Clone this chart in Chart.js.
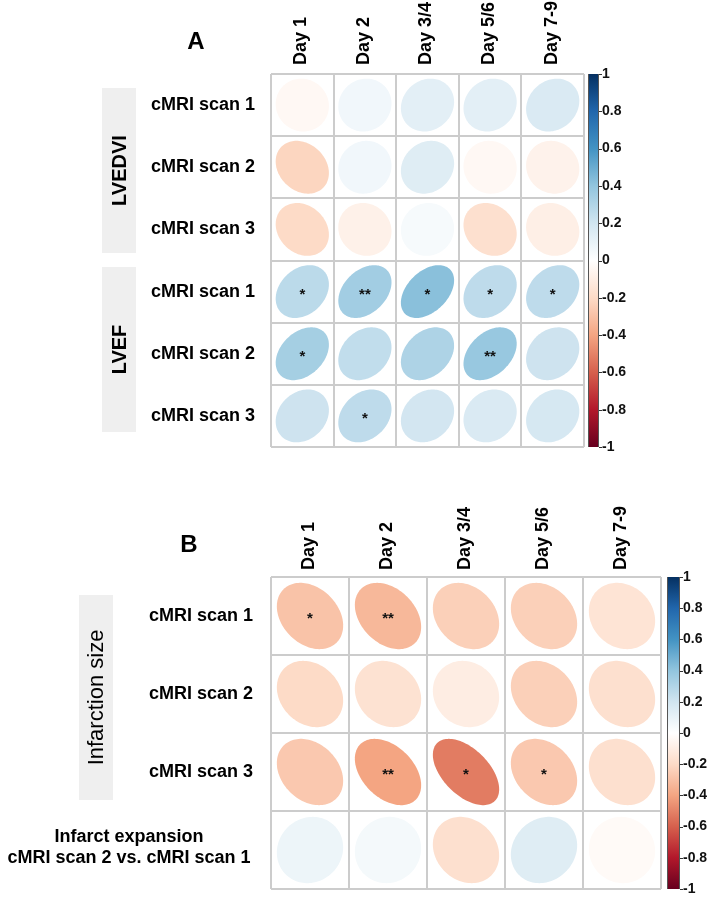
<!DOCTYPE html>
<html>
<head>
<meta charset="utf-8">
<title>Correlation ellipses</title>
<script src="https://cdn.jsdelivr.net/npm/chart.js@4.4.1/dist/chart.umd.min.js"></script>
<style>
    html, body { margin: 0; padding: 0; background: #fff; }
    #wrap { position: relative; width: 709px; height: 898px; }
    .panel { position: absolute; left: 0; }
    #panel-a { top: 0; }
    #panel-b { top: 460px; }
</style>
</head>
<body>
<div id="wrap">
    <div class="panel" id="panel-a"><canvas id="chart-a" width="709" height="460"></canvas></div>
    <div class="panel" id="panel-b"><canvas id="chart-b" width="709" height="438"></canvas></div>
</div>
<script>
// Axis labels
const days = ['Day 1', 'Day 2', 'Day 3/4', 'Day 5/6', 'Day 7-9'];
const rowsA = ['cMRI scan 1', 'cMRI scan 2', 'cMRI scan 3', 'cMRI scan 1', 'cMRI scan 2', 'cMRI scan 3'];
const rowsB = ['cMRI scan 1', 'cMRI scan 2', 'cMRI scan 3', ['Infarct expansion', 'cMRI scan 2 vs. cMRI scan 1']];
const colorbarTicks = [-1, -0.8, -0.6, -0.4, -0.2, 0, 0.2, 0.4, 0.6, 0.8, 1];

// Panel A correlations (rows x days)
const corrLVEDVI = [
    [-0.04, 0.06, 0.12, 0.12, 0.16],
    [-0.22, 0.06, 0.14, -0.04, -0.07],
    [-0.20, -0.08, 0.04, -0.17, -0.09]
];
const corrLVEF = [
    [0.27, 0.35, 0.42, 0.26, 0.26],
    [0.34, 0.25, 0.31, 0.38, 0.21],
    [0.21, 0.26, 0.19, 0.16, 0.18]
];
const sigLVEDVI = [
    ['', '', '', '', ''],
    ['', '', '', '', ''],
    ['', '', '', '', '']
];
const sigLVEF = [
    ['*', '**', '*', '*', '*'],
    ['*', '', '', '**', ''],
    ['', '*', '', '', '']
];

// Panel B correlations
const corrInfarct = [
    [-0.29, -0.33, -0.24, -0.24, -0.15],
    [-0.20, -0.16, -0.10, -0.24, -0.17],
    [-0.27, -0.40, -0.52, -0.27, -0.17]
];
const corrExpansion = [0.08, 0.05, -0.17, 0.14, -0.03];
const sigInfarct = [
    ['*', '**', '', '', ''],
    ['', '', '', '', ''],
    ['', '**', '*', '*', '']
];
const sigExpansion = ['', '', '', '', ''];

// RdBu palette used by corrplot
const palette = ['#67001F', '#B2182B', '#D6604D', '#F4A582', '#FDDBC7', '#FFFFFF',
                 '#D1E5F0', '#92C5DE', '#4393C3', '#2166AC', '#053061'];

const FONT = 'Arial, "Liberation Sans", sans-serif';

function hexToRgb(h) {
    return [parseInt(h.slice(1, 3), 16), parseInt(h.slice(3, 5), 16), parseInt(h.slice(5, 7), 16)];
}

function corrColor(v) {
    const pos = (v + 1) / 2 * (palette.length - 1);
    const i = Math.min(Math.floor(pos), palette.length - 2);
    const f = pos - i;
    const a = hexToRgb(palette[i]), b = hexToRgb(palette[i + 1]);
    const c = a.map((x, k) => Math.round(x + (b[k] - x) * f));
    return 'rgb(' + c.join(',') + ')';
}

// Build scatter points from the row arrays
function toPoints(matrix, sig) {
    const pts = [];
    matrix.forEach((row, r) => {
        row.forEach((v, c) => pts.push({ x: c, y: r, v: v, sig: sig[r][c] }));
    });
    return pts;
}

function halfTicks(n) {
    const t = [];
    for (let v = -0.5; v <= n - 0.5 + 1e-9; v += 0.5) t.push({ value: v });
    return t;
}

// tick padding of vertical axes would otherwise shrink the chart area
function noEdgePadding(s) {
    s.paddingTop = 0;
    s.paddingBottom = 0;
}

// Draws ellipses (corrplot style) at each data point
const ellipsePlugin = {
    id: 'corrEllipses',
    afterDatasetsDraw(chart) {
        const ctx = chart.ctx;
        const xs = chart.scales.x, ys = chart.scales.y;
        const cw = Math.abs(xs.getPixelForValue(1) - xs.getPixelForValue(0));
        const ch = Math.abs(ys.getPixelForValue(1) - ys.getPixelForValue(0));
        const meta = chart.getDatasetMeta(0);
        const data = chart.data.datasets[0].data;
        ctx.save();
        meta.data.forEach((pt, i) => {
            const d = data[i];
            const a = Math.acos(d.v) / 2;
            ctx.beginPath();
            for (let k = 0; k < 120; k++) {
                const t = k / 119 * 2 * Math.PI;
                const ex = 0.85 * Math.cos(t + a) / 2 * cw;
                const ey = 0.85 * Math.cos(t - a) / 2 * ch;
                if (k === 0) ctx.moveTo(pt.x + ex, pt.y - ey);
                else ctx.lineTo(pt.x + ex, pt.y - ey);
            }
            ctx.closePath();
            ctx.fillStyle = corrColor(d.v);
            ctx.fill();
            if (d.sig) {
                ctx.font = 'bold 15px ' + FONT;
                ctx.fillStyle = '#111';
                ctx.textAlign = 'center';
                ctx.textBaseline = 'alphabetic';
                const m = ctx.measureText(d.sig);
                const off = (m.actualBoundingBoxAscent - m.actualBoundingBoxDescent) / 2;
                ctx.fillText(d.sig, pt.x, pt.y + off);
            }
        });
        ctx.restore();
    }
};

// Colour bar, panel letter, column labels, group strips and multi-line row labels
const decorPlugin = {
    id: 'panelDecor',
    afterDraw(chart, args, opts) {
        const ctx = chart.ctx;
        const bar = chart.scales.bar;
        const xs = chart.scales.x, ys = chart.scales.y;
        const area = chart.chartArea;
        const top = bar.getPixelForValue(1), bottom = bar.getPixelForValue(-1);
        const x0 = area.right + opts.barOffset, x1 = x0 + opts.barWidth;
        ctx.save();
        const grad = ctx.createLinearGradient(0, top, 0, bottom);
        palette.slice().reverse().forEach((c, i) => grad.addColorStop(i / (palette.length - 1), c));
        ctx.fillStyle = grad;
        ctx.fillRect(x0, top, x1 - x0, bottom - top);
        ctx.strokeStyle = '#555';
        ctx.lineWidth = 1;
        ctx.beginPath();
        ctx.moveTo(x0 + 0.5, top);
        ctx.lineTo(x0 + 0.5, bottom);
        ctx.moveTo(x1 - 0.5, top);
        ctx.lineTo(x1 - 0.5, bottom);
        ctx.stroke();
        ctx.strokeStyle = '#333';
        colorbarTicks.forEach(v => {
            const y = Math.round(bar.getPixelForValue(v)) + 0.5;
            ctx.beginPath();
            ctx.moveTo(x1, y);
            ctx.lineTo(x1 + 3, y);
            ctx.stroke();
        });

        // panel letter
        ctx.fillStyle = '#000';
        ctx.font = 'bold 24px ' + FONT;
        ctx.textAlign = 'center';
        ctx.textBaseline = 'middle';
        ctx.fillText(opts.letter, opts.letterX, opts.letterY);

        // column labels, rotated, placed on the x scale
        ctx.font = 'bold 18px ' + FONT;
        ctx.textAlign = 'left';
        ctx.textBaseline = 'middle';
        days.forEach((lab, i) => {
            ctx.save();
            ctx.translate(xs.getPixelForValue(i) - 1, area.top - opts.colPad);
            ctx.rotate(-Math.PI / 2);
            ctx.fillText(lab, 0, 0);
            ctx.restore();
        });

        // group strips
        opts.strips.forEach(s => {
            ctx.fillStyle = '#efefef';
            ctx.fillRect(s.x, s.y, s.w, s.h);
            ctx.save();
            ctx.translate(s.x + s.w / 2, s.y + s.h / 2);
            ctx.rotate(-Math.PI / 2);
            ctx.fillStyle = '#000';
            ctx.font = s.font;
            ctx.textAlign = 'center';
            ctx.textBaseline = 'middle';
            ctx.fillText(s.label, 0, 1);
            ctx.restore();
        });

        // multi-line row labels, centred
        opts.rows.forEach((lab, r) => {
            if (!Array.isArray(lab)) return;
            const cy = ys.getPixelForValue(r);
            ctx.font = 'bold 18px ' + FONT;
            ctx.fillStyle = '#000';
            ctx.textAlign = 'center';
            ctx.textBaseline = 'middle';
            lab.forEach((line, j) => {
                ctx.fillText(line, opts.multiX, cy - 2 + (j - (lab.length - 1) / 2) * 21);
            });
        });
        ctx.restore();
    }
};

function makePanel(canvasId, rows, points, layout) {
    const ctx = document.getElementById(canvasId).getContext('2d');
    const gridColor = c => (Math.abs(c.tick.value % 1) === 0.5 ? '#cccccc' : 'rgba(0,0,0,0)');
    return new Chart(ctx, {
        type: 'scatter',
        data: {
            datasets: [{
                data: points,
                pointRadius: 0,
                pointHoverRadius: 0
            }]
        },
        options: {
            responsive: false,
            animation: false,
            devicePixelRatio: 1,
            events: [],
            layout: {
                autoPadding: false,
                padding: { top: 0, left: 0, right: 0, bottom: layout.bottomPad }
            },
            plugins: {
                legend: { display: false },
                tooltip: { enabled: false },
                panelDecor: {
                    letter: layout.letter,
                    letterX: layout.letterX,
                    letterY: layout.letterY,
                    colPad: layout.colPad,
                    barOffset: layout.barOffset,
                    barWidth: layout.barWidth,
                    strips: layout.strips,
                    rows: rows,
                    multiX: 129
                }
            },
            scales: {
                x: {
                    type: 'linear',
                    position: 'top',
                    min: -0.5,
                    max: days.length - 0.5,
                    afterBuildTicks: s => { s.ticks = halfTicks(days.length); },
                    afterFit: s => { s.height = layout.topHeight; },
                    grid: { color: gridColor, lineWidth: 2, drawTicks: false },
                    border: { display: false },
                    ticks: { display: false }
                },
                y: {
                    type: 'linear',
                    position: 'left',
                    reverse: true,
                    min: -0.5,
                    max: rows.length - 0.5,
                    afterBuildTicks: s => { s.ticks = halfTicks(rows.length); },
                    afterFit: s => { s.width = 271; noEdgePadding(s); },
                    grid: { color: gridColor, lineWidth: 2, drawTicks: false },
                    border: { display: false },
                    ticks: {
                        autoSkip: false,
                        padding: layout.rowPad,
                        color: '#000',
                        font: { family: FONT, size: 18, weight: 'bold' },
                        callback: v => (Number.isInteger(v) && !Array.isArray(rows[v]) ? rows[v] : '')
                    }
                },
                bar: {
                    type: 'linear',
                    position: 'right',
                    min: -1,
                    max: 1,
                    afterBuildTicks: s => { s.ticks = colorbarTicks.map(v => ({ value: v })); },
                    afterFit: s => { s.width = layout.barAxisWidth; noEdgePadding(s); },
                    grid: { display: false, drawTicks: false },
                    border: { display: false },
                    ticks: {
                        autoSkip: false,
                        padding: layout.barPad,
                        color: '#111',
                        font: { family: FONT, size: 14, weight: 'bold' },
                        callback: v => String(Math.round(v * 10) / 10)
                    }
                }
            }
        },
        plugins: [ellipsePlugin, decorPlugin]
    });
}

const pointsA = toPoints(corrLVEDVI.concat(corrLVEF), sigLVEDVI.concat(sigLVEF));
const pointsB = toPoints(corrInfarct.concat([corrExpansion]), sigInfarct.concat([sigExpansion]));

makePanel('chart-a', rowsA, pointsA, {
    letter: 'A', letterX: 196, letterY: 42,
    topHeight: 74, bottomPad: 13, colPad: 9, rowPad: 16,
    barAxisWidth: 125, barPad: 18, barOffset: 4, barWidth: 11,
    strips: [
        { label: 'LVEDVI', x: 102, y: 88, w: 34, h: 165, font: 'bold 20px ' + FONT },
        { label: 'LVEF', x: 102, y: 267, w: 34, h: 165, font: 'bold 20px ' + FONT }
    ]
});

makePanel('chart-b', rowsB, pointsB, {
    letter: 'B', letterX: 189, letterY: 85,
    topHeight: 117, bottomPad: 9, colPad: 7, rowPad: 18,
    barAxisWidth: 48, barPad: 22, barOffset: 6, barWidth: 13,
    strips: [
        { label: 'Infarction size', x: 79, y: 135, w: 34, h: 205, font: '22px ' + FONT }
    ]
});
</script>
</body>
</html>
